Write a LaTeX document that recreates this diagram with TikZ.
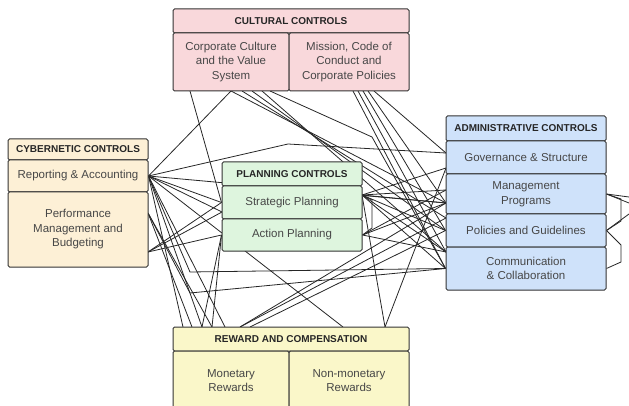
\documentclass[tikz,border=0pt]{standalone}
\usepackage{fontspec}
\setmainfont{Liberation Sans}
\usetikzlibrary{backgrounds}
\definecolor{cultfill}{RGB}{249,216,219}
\definecolor{cybfill}{RGB}{253,240,214}
\definecolor{planfill}{RGB}{222,245,222}
\definecolor{admfill}{RGB}{207,226,250}
\definecolor{rewfill}{RGB}{250,247,201}
\begin{document}
\begin{tikzpicture}[x=1pt, y=-1pt,
  cell/.style={draw=black!80, line width=1pt, rounded corners=1.5pt, inner sep=0pt,
    align=center, text=black!72, font=\fontsize{11.5}{14.5}\selectfont},
  head/.style={cell, text=black!85, font=\fontsize{10}{12}\selectfont\bfseries},
  wire/.style={black!85, line width=.8pt}]
\useasboundingbox (0,0) rectangle (629,406);
\clip (0,0) rectangle (629,406);

% cultural
\node[head, fill=cultfill, minimum width=236pt, minimum height=24pt] (cultH) at (291,21) {CULTURAL CONTROLS};
\node[cell, fill=cultfill, minimum width=116pt, minimum height=58pt] (cultL) at (231,62) {Corporate Culture\\and the Value\\System};
\node[cell, fill=cultfill, minimum width=120pt, minimum height=58pt] (cultR) at (349,62) {Mission, Code of\\Conduct and\\Corporate Policies};
% cybernetic
\node[head, fill=cybfill, minimum width=140pt, minimum height=21pt] (cybH) at (78,149.5) {CYBERNETIC CONTROLS};
\node[cell, fill=cybfill, minimum width=140pt, minimum height=32pt] (rep) at (78,176) {Reporting \& Accounting};
\node[cell, fill=cybfill, minimum width=140pt, minimum height=75pt] (perf) at (78,229.5) {Performance\\Management and\\Budgeting};
% planning
\node[head, fill=planfill, minimum width=140pt, minimum height=24pt] (planH) at (292,174) {PLANNING CONTROLS};
\node[cell, fill=planfill, minimum width=140pt, minimum height=33pt] (strat) at (292,202.5) {Strategic Planning};
\node[cell, fill=planfill, minimum width=140pt, minimum height=32pt] (act) at (292,235) {Action Planning};
% administrative
\node[head, fill=admfill, minimum width=160pt, minimum height=25pt] (admH) at (526,128.5) {ADMINISTRATIVE CONTROLS};
\node[cell, fill=admfill, minimum width=160pt, minimum height=33pt] (gov) at (526,157.5) {Governance \& Structure};
\node[cell, fill=admfill, minimum width=160pt, minimum height=40pt] (mgmt) at (526,194) {Management\\Programs};
\node[cell, fill=admfill, minimum width=160pt, minimum height=33pt] (pol) at (526,230.5) {Policies and Guidelines};
\node[cell, fill=admfill, minimum width=160pt, minimum height=43pt] (comm) at (526,268.5) {Communication\\\& Collaboration};
% reward
\node[head, fill=rewfill, minimum width=236pt, minimum height=24pt] (rewH) at (291,339) {REWARD AND COMPENSATION};
\node[cell, fill=rewfill, minimum width=116pt, minimum height=59pt] (mon) at (231,380.5) {Monetary\\Rewards};
\node[cell, fill=rewfill, minimum width=120pt, minimum height=59pt] (nmon) at (349,380.5) {Non-monetary\\Rewards};

% ports
\coordinate (cu1) at (190,91);  \coordinate (cu2) at (231,91);
\coordinate (cu3) at (242,91);  \coordinate (cu4) at (252,91);
\coordinate (cu5) at (262,91);  \coordinate (cu6) at (270,91);
\coordinate (cr1) at (353,91);  \coordinate (cr2) at (358,91);
\coordinate (cr3) at (363,91);  \coordinate (cr4) at (368,91);
\coordinate (cr5) at (374,91);
\coordinate (rw1) at (183,327); \coordinate (rw2) at (192,327);
\coordinate (rw3) at (202,327); \coordinate (rw4) at (212,327);
\coordinate (rw5) at (225,327); \coordinate (rw6) at (240,327);
\coordinate (rw7) at (250,327); \coordinate (rw8) at (343,327);
\coordinate (rw9) at (385,327);
\coordinate (perfA) at (148,213); \coordinate (perfB) at (148,252);
\coordinate (sW2) at (222,212);   \coordinate (stratE) at (362,195);
\coordinate (govW) at (446,153);  \coordinate (gB) at (446,168);
\coordinate (admA) at (446,190);  \coordinate (admB) at (446,203);
\coordinate (polB) at (446,218);  \coordinate (commA) at (446,252);
\coordinate (offA) at (629,197);  \coordinate (offB) at (629,203);
\coordinate (offC) at (629,214);

\begin{pgfonlayer}{background}
\draw[wire] (cu1) -- (strat.west);
\draw[wire] (cu2) -- (rep.east);
\draw[wire] (cu2) -- (admB);
\draw[wire] (cu3) -- (polB);
\draw[wire] (cu4) -- (pol.west);
\draw[wire] (cu5) -- (commA);
\draw[wire] (cu6) -- (372,137) -- (comm.west);
\draw[wire] (cr1) -- (comm.west);
\draw[wire] (cr2) -- (commA);
\draw[wire] (cr3) -- (pol.west);
\draw[wire] (cr4) -- (admB);
\draw[wire] (cr5) -- (govW);

\draw[wire] (rep.east) -- (288,144) -- (govW);
\draw[wire] (rep.east) -- (strat.west);
\draw[wire] (rep.east) -- (sW2);
\draw[wire] (rep.east) -- (rw1);
\draw[wire] (rep.east) -- (rw3);
\draw[wire] (rep.east) -- (rw5);
\draw[wire] (rep.east) -- (rw8);
\draw[wire] (rep.east) -- (190,272) -- (comm.west);
\draw[wire] (rep.east) -- (admB);

\draw[wire] (perfA) -- (rw2);
\draw[wire] (perfA) -- (rw4);
\draw[wire] (perfA) -- (190,293) -- (comm.west);
\draw[wire] (perfB) -- (strat.west);
\draw[wire] (perfB) -- (sW2);
\draw[wire] (perfB) -- (act.west);

\draw[wire] (stratE) -- (gB);
\draw[wire] (stratE) -- (admA);
\draw[wire] (stratE) -- (admB);
\draw[wire] (stratE) -- (pol.west);
\draw[wire] (stratE) -- (commA);
\draw[wire] (stratE) -- (comm.west);
\draw[wire] (stratE) -- (372,200) -- (372,228) -- (act.east);
\draw[wire] (stratE) -- (rw9);
\draw[wire] (act.east) -- (admA);
\draw[wire] (act.east) -- (admB);
\draw[wire] (act.east) -- (commA);

\draw[wire] (rw3) -- (act.west);
\draw[wire] (rw4) -- (act.west);
\draw[wire] (rw6) -- (admB);
\draw[wire] (rw6) -- (polB);
\draw[wire] (rw7) -- (pol.west);
\draw[wire] (rw9) -- (gB);

\draw[wire] (mgmt.east) -- (621,199) -- (621,221) -- (pol.east);
\draw[wire] (mgmt.east) -- (offA);
\draw[wire] (mgmt.east) -- (offB);
\draw[wire] (pol.east) -- (offC);
\draw[wire] (pol.east) -- (621,245) -- (621,262) -- (comm.east);
\end{pgfonlayer}
\end{tikzpicture}
\end{document}
